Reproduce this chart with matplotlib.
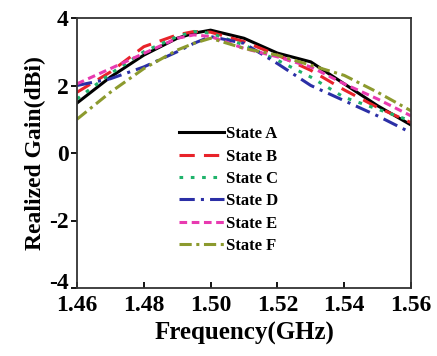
import matplotlib.pyplot as plt
import matplotlib.transforms as mtransforms
import numpy as np

plt.rcParams['font.family'] = ['Liberation Serif', 'DejaVu Serif']
plt.rcParams['font.weight'] = 'bold'
plt.rcParams['axes.unicode_minus'] = False

# Data
freq = [1.46, 1.47, 1.48, 1.49, 1.495, 1.50, 1.51, 1.52, 1.53, 1.54, 1.55, 1.56]
state_a = [1.48, 2.25, 2.9, 3.4, 3.55, 3.64, 3.4, 2.96, 2.7, 2.05, 1.4, 0.83]
state_b = [1.8, 2.4, 3.15, 3.5, 3.6, 3.58, 3.3, 2.9, 2.45, 1.87, 1.35, 0.9]
state_c = [1.6, 2.35, 3.0, 3.45, 3.6, 3.55, 3.2, 2.75, 2.25, 1.65, 1.3, 0.95]
state_d = [2.0, 2.2, 2.55, 3.0, 3.25, 3.45, 3.25, 2.65, 2.0, 1.55, 1.1, 0.6]
state_e = [2.05, 2.5, 2.95, 3.4, 3.5, 3.45, 3.1, 2.85, 2.55, 2.05, 1.6, 1.1]
state_f = [1.0, 1.8, 2.5, 3.05, 3.25, 3.4, 3.1, 2.9, 2.6, 2.3, 1.8, 1.25]

labels = ["State A", "State B", "State C", "State D", "State E", "State F"]
series = [state_a, state_b, state_c, state_d, state_e, state_f]
colors = ["#000000", "#e8232a", "#1fb36b", "#2b2fa6", "#e83ab0", "#8c9a2e"]
styles = ["-", (0, (5, 3)), (0, (1.2, 2.5)), (0, (5, 2, 1, 2)), (0, (2.5, 1.5)), (0, (4, 1.5, 1, 1.5))]

fig = plt.figure(figsize=(4.37, 3.56), dpi=100)
ax = fig.add_axes([77 / 437, 68 / 356, 334 / 437, 270 / 356])

for y, lab, c, ls in zip(series, labels, colors, styles):
    ax.plot(freq, y, color=c, linestyle=ls, linewidth=2.2, label=lab)

ax.set_xlim(1.46, 1.56)
ax.set_ylim(-4, 4)
ax.set_xticks([1.46, 1.48, 1.50, 1.52, 1.54, 1.56])
ax.set_xticklabels(["1.46", "1.48", "1.50", "1.52", "1.54", "1.56"])
ax.set_yticks([-4, -2, 0, 2, 4])
ax.tick_params(axis='x', direction='in', labelsize=17, width=1.3, length=4, pad=5)
ax.tick_params(axis='y', direction='out', labelsize=17, width=1.3, length=4, pad=2)
for s in ax.spines.values():
    s.set_linewidth(1.3)
    s.set_color("#333333")

# lift the bottom y tick label a little so it clears 1.46
lift = mtransforms.ScaledTranslation(0, 5 / 72, fig.dpi_scale_trans)
bottom_lab = ax.get_yticklabels()[0]
bottom_lab.set_transform(bottom_lab.get_transform() + lift)

ax.set_xlabel("Frequency(GHz)", fontsize=18, fontweight='bold', labelpad=4)
ax.set_ylabel("Realized Gain(dBi)", fontsize=17, fontweight='bold', labelpad=2)

ax.legend(loc='upper left', bbox_to_anchor=(0.28, 0.63), frameon=False, fontsize=12,
          handlelength=2.7, handletextpad=0.1, labelspacing=0.38, borderpad=0)

plt.savefig("out.png", dpi=100)
